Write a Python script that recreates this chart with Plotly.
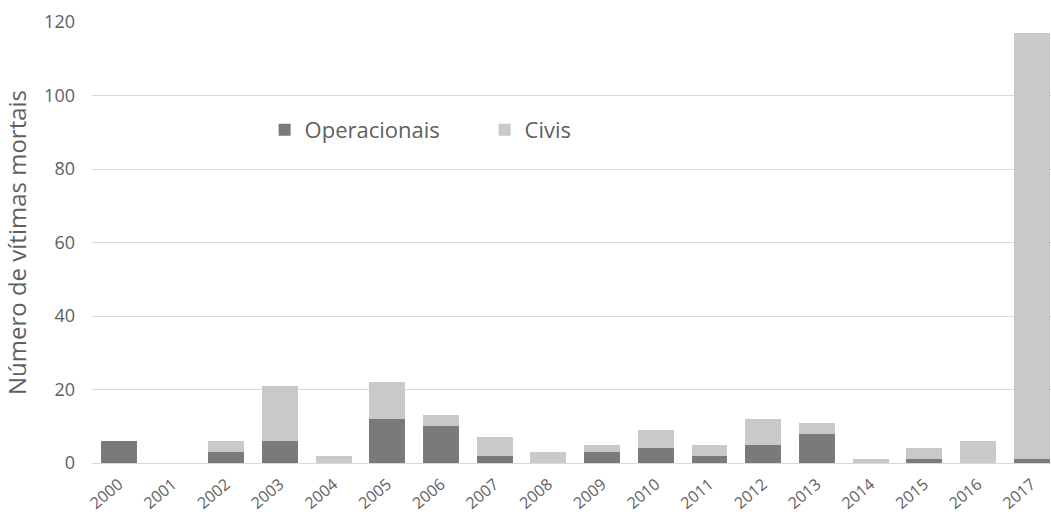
import plotly.graph_objects as go

years = [str(y) for y in range(2000, 2018)]
operacionais = [6, 0, 3, 6, 0, 12, 10, 2, 0, 3, 4, 2, 5, 8, 0, 1, 0, 1]
civis = [0, 0, 3, 15, 2, 10, 3, 5, 3, 2, 5, 3, 7, 3, 1, 3, 6, 116]
y_ticks = [0, 20, 40, 60, 80, 100, 120]

FONT = "'Open Sans', sans-serif"
TXT = "#5f5f5f"

fig = go.Figure()
fig.add_trace(go.Bar(x=years, y=operacionais, name="Operacionais",
                     marker=dict(color="#7a7a7a", line=dict(width=0))))
fig.add_trace(go.Bar(x=years, y=civis, name="Civis",
                     marker=dict(color="#c9c9c9", line=dict(width=0))))

fig.update_layout(
    width=1051, height=515,
    barmode="stack", bargap=0.33,
    paper_bgcolor="white", plot_bgcolor="white",
    margin=dict(l=92, r=0, t=22, b=52),
    font=dict(family=FONT, color=TXT),
    showlegend=True,
    legend=dict(orientation="h", traceorder="normal",
                x=0.18, y=0.755, xanchor="left", yanchor="middle",
                font=dict(size=22, color=TXT), bgcolor="rgba(0,0,0,0)",
                itemwidth=30, entrywidth=175),
    xaxis=dict(type="category", range=[-0.5, 17.36], tickangle=-40, automargin=False,
               tickfont=dict(size=16, color=TXT), showgrid=False,
               showline=False, ticks="", ticklabelstandoff=8),
    yaxis=dict(range=[0, 120], tickvals=y_ticks, showgrid=True, gridcolor="#d9d9d9",
               gridwidth=1, zeroline=True, zerolinecolor="#d9d9d9", zerolinewidth=1,
               automargin=False,
               tickfont=dict(size=18, color=TXT), ticklabelstandoff=16,
               title=dict(text="Número de vítimas mortais", font=dict(size=24, color=TXT),
                          standoff=11)),
)

fig.write_html("out.html", config={"displayModeBar": False},
               post_script="document.body.style.margin='0px';")
